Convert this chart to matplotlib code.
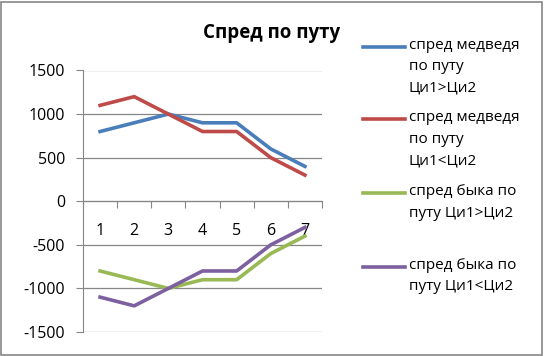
import matplotlib.pyplot as plt
from matplotlib.lines import Line2D
from matplotlib.patches import Rectangle

# datos
categorias = [1, 2, 3, 4, 5, 6, 7]
medv_mayor = [800, 900, 1000, 900, 900, 600, 400]
medv_menor = [1100, 1200, 1000, 800, 800, 500, 300]
byka_mayor = [-800, -900, -1000, -900, -900, -600, -400]
byka_menor = [-1100, -1200, -1000, -800, -800, -500, -300]
nombres = ["спред медведя\nпо путу\nЦи1>Ци2",
           "спред медведя\nпо путу\nЦи1<Ци2",
           "спред быка по\nпуту Ци1>Ци2",
           "спред быка по\nпуту Ци1<Ци2"]
colores = ["#4A7EBB", "#BE4B48", "#98B954", "#7D60A0"]
yticks = [-1500, -1000, -500, 0, 500, 1000, 1500]

plt.rcParams['font.family'] = ['Open Sans', 'DejaVu Sans']
W, H = 544, 356
fig = plt.figure(figsize=(W/100, H/100), dpi=100)
fig.patches.append(Rectangle((1/W, 1/H), 1-3/W, 1-3/H, transform=fig.transFigure,
                             fill=False, edgecolor="#868686", linewidth=1.2))

ax = fig.add_axes([83/W, 1-332/H, (322-83)/W, (332-70.5)/H])
series = [medv_mayor, medv_menor, byka_mayor, byka_menor]
for s, c in zip(series, colores):
    ax.plot(categorias, s, color=c, linewidth=2.6, solid_joinstyle='round')

ax.set_xlim(0.5, 7.5)
ax.set_ylim(-1500, 1500)
ax.set_yticks(yticks)
ax.set_yticklabels([str(v) for v in yticks], fontsize=11.5)
ax.yaxis.grid(True, color="#868686", linewidth=0.9)
ax.set_axisbelow(True)
for sp in ['top', 'right']:
    ax.spines[sp].set_visible(False)
ax.spines['left'].set_color("#868686")
ax.spines['bottom'].set_color("#868686")
ax.spines['bottom'].set_position(('data', 0))
ax.tick_params(axis='y', length=5, color="#868686", pad=8)
ax.set_xticks([i + 0.5 for i in range(0, 8)])
ax.set_xticklabels([])
ax.tick_params(axis='x', which='major', length=5, color="#868686", direction='out')
ax.set_xticks(categorias, minor=True)
ax.set_xticklabels([str(c) for c in categorias], minor=True, fontsize=11.5)
ax.tick_params(axis='x', which='minor', length=0, pad=16)

fig.text(272/W, 1-33/H, "Спред по путу", ha='center', va='center',
         fontsize=13.5, fontweight='bold')

# leyenda
ys = [46.7, 119.3, 193.3, 266.7]
for y, nom, c in zip(ys, nombres, colores):
    fig.lines.append(Line2D([363/W, 405/W], [1-y/H, 1-y/H], transform=fig.transFigure,
                            color=c, linewidth=2.6))
    fig.text(409/W, 1-(y-9)/H, nom, ha='left', va='top', fontsize=11, linespacing=1.6)

fig.savefig("out.png", dpi=100)
